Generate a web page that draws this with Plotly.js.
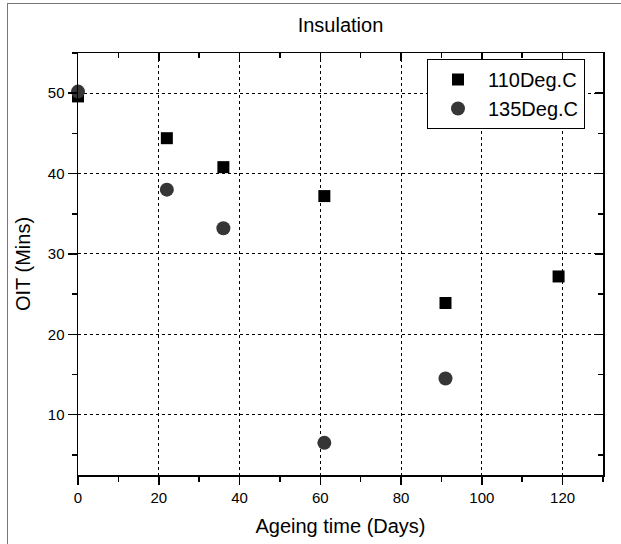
<!DOCTYPE html>
<html>
<head>
<meta charset="utf-8">
<script src="https://cdn.plot.ly/plotly-3.0.1.min.js"></script>
<style>
  html, body { margin: 0; padding: 0; background: #fff; }
  #wrap { position: relative; width: 621px; height: 544px; }
  #chart { width: 621px; height: 544px; }
  #frame { position: absolute; left: 7px; top: 3px; right: -10px; bottom: -10px;
           border-left: 1.5px solid #777; border-top: 1.5px solid #777; pointer-events: none; }
</style>
</head>
<body>
<div id="wrap">
  <div id="chart"></div>
  <div id="frame"></div>
</div>
<script>
// Data
const days110 = [0, 22, 36, 61, 91, 119];
const oit110  = [49.6, 44.4, 40.8, 37.2, 23.9, 27.2];
const days135 = [0, 22, 36, 61, 91];
const oit135  = [50.2, 38.0, 33.2, 6.5, 14.5];
const seriesNames = ['110Deg.C', '135Deg.C'];
const chartTitle = 'Insulation';
const xTitle = 'Ageing time (Days)';
const yTitle = 'OIT (Mins)';

const FONT = 'Liberation Sans, Arial, sans-serif';

const traces = [
  { x: days110, y: oit110, name: seriesNames[0], type: 'scatter', mode: 'markers',
    marker: { symbol: 'square', size: 12, color: '#000000' }, cliponaxis: false },
  { x: days135, y: oit135, name: seriesNames[1], type: 'scatter', mode: 'markers',
    marker: { symbol: 'circle', size: 14, color: '#363636' }, cliponaxis: false },
  { x: [], y: [], xaxis: 'x2', yaxis: 'y2', showlegend: false, hoverinfo: 'skip' }
];

const xRange = [0, 130];
const yRange = [2.5, 55];

const layout = {
  width: 621, height: 544,
  margin: { l: 78, r: 18, t: 53, b: 69 },
  paper_bgcolor: '#ffffff', plot_bgcolor: '#ffffff',
  font: { family: FONT, color: '#000', size: 15 },
  showlegend: true,
  title: { text: chartTitle, font: { family: FONT, size: 20, color: '#000' },
           x: 0.5, xref: 'paper', xanchor: 'center', y: 1 - 25/544, yref: 'container', yanchor: 'middle' },
  xaxis: {
    range: xRange, dtick: 20, tick0: 0, ticks: 'outside', ticklen: 8, tickwidth: 1.5, tickcolor: '#000',
    showline: true, linewidth: 1.5, linecolor: '#000', zeroline: false,
    showgrid: true, gridcolor: '#000', gridwidth: 1, griddash: '3px,3px',
    tickfont: { family: FONT, size: 15, color: '#000' },
    minor: { dtick: 10, ticks: 'outside', ticklen: 5, tickwidth: 1.5, tickcolor: '#000', showgrid: false },
    title: { text: xTitle, font: { family: FONT, size: 20, color: '#000' }, standoff: 14 }
  },
  yaxis: {
    range: yRange, dtick: 10, tick0: 0, ticks: 'outside', ticklen: 9, tickwidth: 1.5, tickcolor: '#000',
    showline: true, linewidth: 1.5, linecolor: '#000', zeroline: false,
    showgrid: true, gridcolor: '#000', gridwidth: 1, griddash: '3px,3px',
    tickfont: { family: FONT, size: 15, color: '#000' },
    minor: { dtick: 5, ticks: 'outside', ticklen: 5, tickwidth: 1.5, tickcolor: '#000', showgrid: false },
    title: { text: yTitle, font: { family: FONT, size: 20, color: '#000' }, standoff: 12 }
  },
  xaxis2: {
    overlaying: 'x', side: 'top', anchor: 'y', range: xRange, dtick: 20, tick0: 0,
    ticks: 'inside', ticklen: 8, tickwidth: 1.5, tickcolor: '#000',
    showline: true, linewidth: 1.5, linecolor: '#000', zeroline: false, showgrid: false,
    showticklabels: false,
    minor: { dtick: 10, ticks: 'inside', ticklen: 5, tickwidth: 1.5, tickcolor: '#000', showgrid: false }
  },
  yaxis2: {
    overlaying: 'y', side: 'right', anchor: 'x', range: yRange, dtick: 10, tick0: 0,
    ticks: 'inside', ticklen: 8, tickwidth: 1.5, tickcolor: '#000',
    showline: true, linewidth: 1.5, linecolor: '#000', zeroline: false, showgrid: false,
    showticklabels: false,
    minor: { dtick: 5, ticks: 'inside', ticklen: 5, tickwidth: 1.5, tickcolor: '#000', showgrid: false }
  },
  legend: {
    x: (427 - 78) / 525, y: (475 - 59) / 422, xanchor: 'left', yanchor: 'top',
    bgcolor: '#ffffff', bordercolor: '#000', borderwidth: 1,
    font: { family: FONT, size: 20, color: '#000' },
    itemwidth: 50, tracegroupgap: 0
  }
};

Plotly.newPlot('chart', traces, layout, { displayModeBar: false, staticPlot: true });
</script>
</body>
</html>
